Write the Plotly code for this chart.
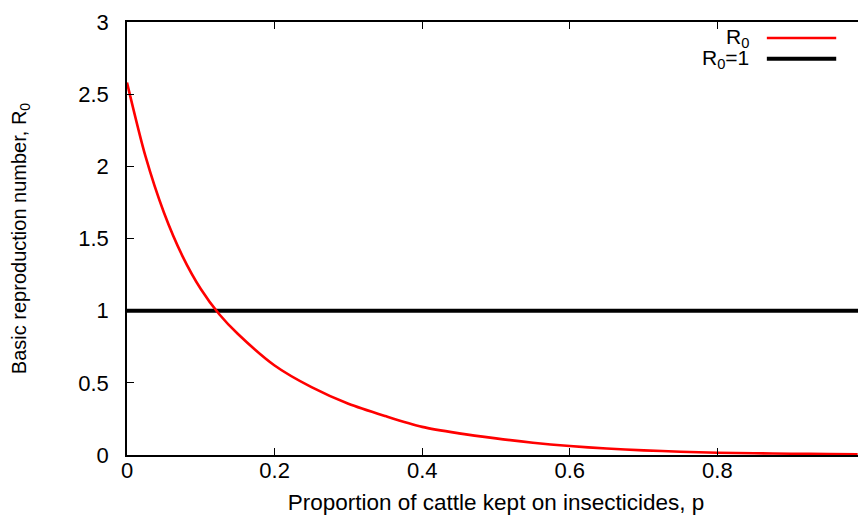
import plotly.graph_objects as go

# Data
p_values = [0, 0.025, 0.05, 0.075, 0.1, 0.125, 0.15, 0.2, 0.25, 0.3, 0.35, 0.4, 0.45,
            0.5, 0.55, 0.6, 0.65, 0.7, 0.75, 0.8, 0.85, 0.9, 0.95, 0.99]
r0_values = [2.58, 2.07, 1.68, 1.38, 1.15, 0.975, 0.84, 0.62, 0.47, 0.355, 0.27, 0.195, 0.15,
             0.115, 0.085, 0.062, 0.045, 0.032, 0.023, 0.016, 0.012, 0.009, 0.007, 0.005]
threshold_p = [0, 1]
threshold_r0 = [1, 1]

x_ticks = [0, 0.2, 0.4, 0.6, 0.8, 1]
x_tick_labels = ["0", "0.2", "0.4", "0.6", "0.8", "1"]
y_ticks = [0, 0.5, 1, 1.5, 2, 2.5, 3]
y_tick_labels = ["0", "0.5", "1", "1.5", "2", "2.5", "3"]

FONT = "Liberation Sans, Arial, sans-serif"

fig = go.Figure()
fig.add_trace(go.Scatter(x=threshold_p, y=threshold_r0, mode="lines",
                         line=dict(color="black", width=4), name="R<sub>0</sub>=1",
                         showlegend=False))
fig.add_trace(go.Scatter(x=p_values, y=r0_values, mode="lines",
                         line=dict(color="#ff0000", width=2.6, shape="spline", smoothing=0.8),
                         name="R<sub>0</sub>", showlegend=False))

axis_common = dict(showline=True, mirror="allticks", linecolor="black", linewidth=1.5,
                   ticks="inside", ticklen=7, tickwidth=1, tickcolor="black",
                   showgrid=False, zeroline=False, ticklabeloverflow="allow",
                   tickfont=dict(family=FONT, size=22, color="black"))

fig.update_xaxes(range=[0, 1], tickvals=x_ticks, ticktext=x_tick_labels,
                 ticklabelstandoff=-5,
                 title=dict(text="Proportion of cattle kept on insecticides, p",
                            font=dict(family=FONT, size=22.5, color="black"), standoff=14),
                 **axis_common)
fig.update_yaxes(range=[0, 3], tickvals=y_ticks, ticktext=y_tick_labels,
                 ticklabelstandoff=12,
                 title=dict(text="Basic reproduction number, R<sub>0</sub>",
                            font=dict(family=FONT, size=20, color="black"), standoff=46),
                 **axis_common)

# Manual gnuplot-style key (text left of the line sample)
legend_items = [("R<sub>0</sub>", "#ff0000", 2.6, 0.963), ("R<sub>0</sub>=1", "black", 4, 0.915)]
for label, color, width, ypos in legend_items:
    fig.add_annotation(x=0.845, y=ypos, xref="paper", yref="paper", text=label,
                       showarrow=False, xanchor="right", yanchor="middle",
                       font=dict(family=FONT, size=21, color="black"))
    fig.add_shape(type="line", xref="paper", yref="paper", x0=0.867, x1=0.961,
                  y0=ypos, y1=ypos, line=dict(color=color, width=width))

fig.update_layout(width=865, height=507, margin=dict(l=119, r=2, t=11, b=58),
                  paper_bgcolor="white", plot_bgcolor="white", showlegend=False)

fig.write_html("out.html")
